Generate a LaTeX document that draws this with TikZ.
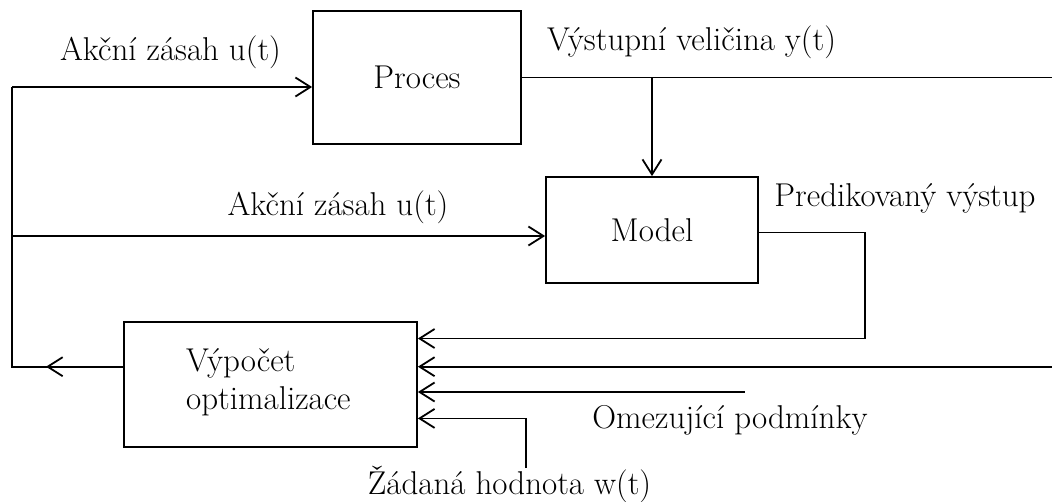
\documentclass[tikz,border=0pt]{standalone}
\usetikzlibrary{arrows.meta}
\begin{document}
\begin{tikzpicture}[x=1pt,y=-1pt,
  blk/.style={draw,line width=1.8pt,minimum width=#1,inner sep=0pt},
  lbl/.style={inner sep=0pt,font=\fontsize{33}{38}\selectfont},
  conn/.style={line width=1.8pt},
  arr/.style={conn,-{Straight Barb[length=15pt,width=19pt,line width=1.8pt]}}]
\useasboundingbox (0,0) rectangle (1052,501);
\node[blk=208pt,minimum height=133pt,font=\fontsize{33}{38}\selectfont] (proc) at (417,77.7) {Proces};
\node[blk=212pt,minimum height=106pt,font=\fontsize{33}{38}\selectfont] (model) at (652,230) {Model};
\node[draw,line width=1.8pt,minimum width=293pt,minimum height=125pt,inner sep=0pt] (opt) at (270.5,384.3) {};
\node[lbl,anchor=west,align=left] (opttxt) at (186,382) {Výpočet\\optimalizace};
% labels
\node[lbl] (l1) at (170.5,52) {Akční zásah u(t)};
\node[lbl] (l2) at (338,207) {Akční zásah u(t)};
\node[lbl] (l3) at (691.5,42) {Výstupní veličina y(t)};
\node[lbl] (l4) at (905,198) {Predikovaný výstup};
\node[lbl] (l5) at (730,420) {Omezující podmínky};
\node[lbl] (l6) at (509.5,484) {Žádaná hodnota w(t)};
% coordinates
\coordinate (lt) at (12,87);
\coordinate (lm) at (12,236);
\coordinate (lb) at (12,366.7);
\coordinate (otip) at (46,366.7);
\coordinate (yr) at (1052,77.5);
\coordinate (yd) at (652,77.5);
\coordinate (pc) at (865,232.4);
\coordinate (pb) at (865,338.5);
\coordinate (fb) at (1052,366.7);
\coordinate (om) at (744.6,392);
\coordinate (wb) at (526,468);
\coordinate (wt) at (526,418.4);
% connectors
\draw[conn] (opt.west |- lb) -- (lb) -- (lt);
\draw[arr] (opt.west |- lb) -- (otip);
\draw[arr] (lt) -- (proc.west |- lt);
\draw[arr] (lm) -- (model.west |- lm);
\draw[conn] (proc.east |- yr) -- (yr);
\draw[arr] (yd) -- (model.north);
\draw[arr] (model.east |- pc) -- (pc) -- (pb) -- (opt.east |- pb);
\draw[arr] (fb) -- (opt.east |- fb);
\draw[arr] (om) -- (opt.east |- om);
\draw[arr] (wb) -- (wt) -- (opt.east |- wt);
\end{tikzpicture}
\end{document}
